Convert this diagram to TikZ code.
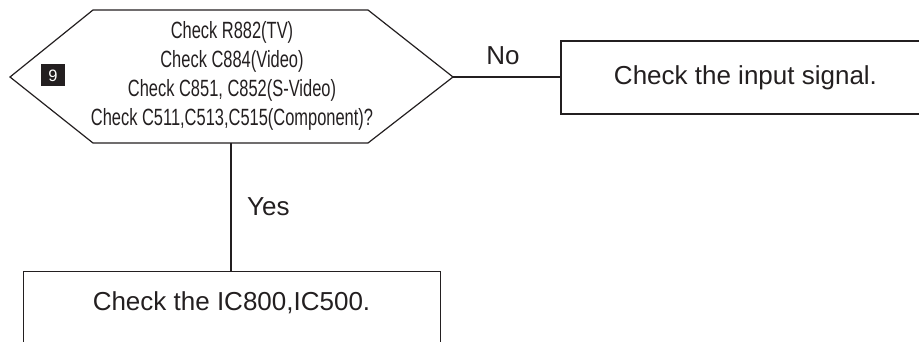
\documentclass[tikz,border=0pt]{standalone}
\usepackage{fontspec}
\setmainfont{Liberation Sans}
\newfontfamily\narrowfont[FakeStretch=0.7]{Liberation Sans}
\definecolor{ink}{HTML}{231F20}
\begin{document}
\begin{tikzpicture}[x=1pt,y=-1pt,
  conn/.style={draw=ink, line width=1.2pt},
  boxstyle/.style={draw=ink, line width=1.2pt, rectangle, inner sep=0pt},
  lbl/.style={text=ink, font=\fontsize{26}{30}\selectfont, inner sep=0pt},
  qstyle/.style={text=ink, font=\narrowfont\fontsize{23.5}{29}\selectfont, align=center, inner sep=0pt},
  badgestyle/.style={fill=ink, minimum width=24pt, minimum height=22pt, inner sep=0pt, text=white, font=\fontsize{16.5}{16.5}\selectfont}]
\clip (0,0) rectangle (919,342);
% decision hexagon
\coordinate (hW) at (10,77);
\coordinate (hNW) at (93,10);
\coordinate (hNE) at (368,10);
\coordinate (hE) at (453,77);
\coordinate (hSE) at (368,143);
\coordinate (hSW) at (93,143);
\coordinate (hS) at (231,143);
\draw[conn, line join=miter] (hW) -- (hNW) -- (hNE) -- (hE) -- (hSE) -- (hSW) -- cycle;
\node[qstyle] (qtext) at (232,75.5) {Check R882(TV)\\Check C884(Video)\\Check C851, C852(S-Video)\\Check C511,C513,C515(Component)?};
\node[badgestyle] (badge) at (53,75.5) {9};
% boxes
\node[boxstyle, lbl, minimum width=369pt, minimum height=73pt] (nobox) at (745.5,77.5) {Check the input signal.};
\node[boxstyle, minimum width=417pt, minimum height=120pt, anchor=north west] (yesbox) at (23,271) {};
\node[lbl] (yestext) at (231.5,303) {Check the IC800,IC500.};
% connectors
\draw[conn] (hE) -- (hE -| nobox.west);
\draw[conn] (hS) -- (hS |- yesbox.north);
\node[lbl] (nolbl) at (503,56) {No};
\node[lbl, anchor=west] (yeslbl) at (247,207) {Yes};
\end{tikzpicture}
\end{document}
